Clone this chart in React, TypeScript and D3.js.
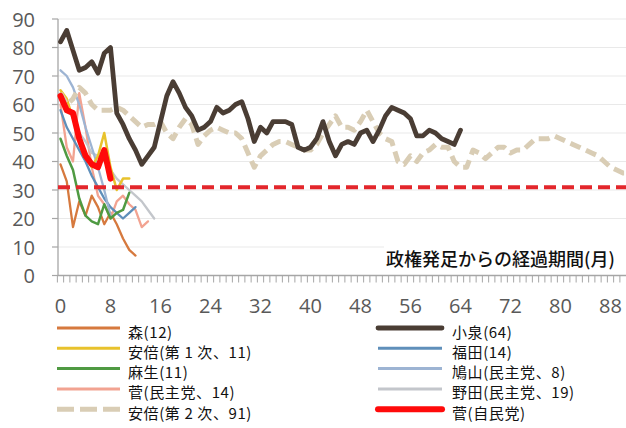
import React from 'react';
import * as d3 from 'd3';

// ---- data ----
const yTickValues = [0, 10, 20, 30, 40, 50, 60, 70, 80, 90];
const xTickLabels = [0, 8, 16, 24, 32, 40, 48, 56, 64, 72, 80, 88];
const threshold = 31;

const mori = [39, 33, 17, 26, 21, 28, 24, 18, 22, 18, 13, 9, 7];
const abe1 = [65, 62, 55, 48, 42, 38, 42, 50, 38, 30, 34, 34];
const aso = [48, 42, 37, 27, 21, 19, 18, 25, 20, 22, 23, 29];
const kanDPJ = [60, 45, 40, 64, 52, 38, 28, 25, 20, 26, 28, 25, 23, 17, 19];
const abe2 = [64, 60, 62, 66, 64, 60, 58, 58, 58, 59, 58, 56, 54, 52, 53, 53, 54, 50, 48, 52,
  55, 53, 46, 49, 51, 52, 51, 50, 50, 48, 43, 38, 42, 44, 46, 47, 47, 46, 45, 44,
  44, 46, 50, 53, 56, 52, 52, 51, 54, 58, 54, 50, 48, 47, 40, 39, 42, 40, 43, 44,
  46, 45, 45, 40, 38, 38, 44, 43, 41, 43, 45, 45, 43, 44, 44, 46, 48, 48, 48, 49,
  48, 47, 46, 45, 44, 43, 42, 40, 38, 37, 36, 36];
const koizumi = [82, 86, 79, 72, 73, 75, 71, 78, 80, 57, 53, 48, 44, 39, 42, 45, 54, 63, 68, 64,
  59, 56, 51, 52, 54, 59, 57, 58, 60, 61, 55, 47, 52, 50, 54, 54, 54, 53, 45, 44,
  45, 48, 54, 47, 42, 46, 47, 46, 50, 51, 47, 51, 56, 59, 58, 57, 55, 49, 49, 51,
  50, 48, 47, 46, 51];
const fukuda = [58, 52, 48, 44, 40, 35, 31, 27, 24, 22, 20, 22, 24];
const hatoyama = [72, 70, 66, 60, 52, 45, 38, 30, 21];
const noda = [64, 60, 55, 50, 47, 43, 42, 40, 37, 34, 32, 30, 28, 26, 23, 20];
const sugaLDP = [63, 58, 57, 48, 42, 39, 38, 44, 34];

const leftLegend = ['森(12)', '安倍(第 1 次、11)', '麻生(11)', '菅(民主党、14)', '安倍(第 2 次、91)'];
const rightLegend = ['小泉(64)', '福田(14)', '鳩山(民主党、8)', '野田(民主党、19)', '菅(自民党)'];
const axisTitle = '政権発足からの経過期間(月)';

type S = { name: string; data: number[]; color: string; width: number; dash?: string };

export default function App() {
  const W = 626, H = 428;
  const x = d3.scaleLinear().domain([0, 91]).range([60.5, 60.5 + 91 * 6.25]);
  const y = d3.scaleLinear().domain([0, 90]).range([275.5, 19]);
  const line = d3.line<number>().x((_, i) => x(i)).y(d => y(d)).curve(d3.curveLinear);
  const step = x(1) - x(0);
  const axisX = 58;
  const axisY = y(0);

  const thin: S[] = [
    { name: leftLegend[0], data: mori, color: '#d6793e', width: 2.3 },
    { name: leftLegend[3], data: kanDPJ, color: '#f2a391', width: 2.3 },
    { name: rightLegend[3], data: noda, color: '#c3c6cb', width: 2.3 },
    { name: rightLegend[1], data: fukuda, color: '#5f8fba', width: 2.3 },
    { name: rightLegend[2], data: hatoyama, color: '#9db4d3', width: 2.3 },
    { name: leftLegend[2], data: aso, color: '#4f9a42', width: 2.5 },
    { name: leftLegend[1], data: abe1, color: '#e8c22c', width: 2.5 },
  ];
  const abe2S: S = { name: leftLegend[4], data: abe2, color: '#d9cdb5', width: 5, dash: '11 6' };
  const koiS: S = { name: rightLegend[0], data: koizumi, color: '#4a3d34', width: 4.8 };
  const sugaS: S = { name: rightLegend[4], data: sugaLDP, color: '#ff0a0a', width: 6 };

  const leftStyles: S[] = [thin[0], thin[6], thin[5], thin[1], abe2S];
  const rightStyles: S[] = [koiS, thin[3], thin[4], thin[2], sugaS];

  const ticks = d3.range(0, 93).map(i => x(i) - step / 2).filter(v => v <= W);
  const legendRowY = (i: number) => 328 + i * 20.3;
  const numFont = "'Open Sans', 'Noto Sans', sans-serif";
  const cjkFont = "'Noto Sans CJK JP', 'Noto Sans', sans-serif";

  return (
    <svg width={W} height={H} style={{ position: 'absolute', left: 0, top: 0, display: 'block', background: '#fff' }}>
      <rect x={0} y={0} width={W} height={H} fill="#fff" />
      {/* gridlines */}
      {yTickValues.filter(v => v > 0).map(v => (
        <line key={v} x1={axisX} x2={W} y1={y(v)} y2={y(v)} stroke="#e9e9e9" strokeWidth={1} />
      ))}
      {/* axis title box */}
      <rect x={384} y={242} width={W - 384} height={31} fill="#fff" />
      <text x={386} y={258} fontFamily={cjkFont} fontSize={18} fontWeight={500} fill="#111" dominantBaseline="central">{axisTitle}</text>
      {/* y axis */}
      <line x1={axisX} x2={axisX} y1={y(90)} y2={axisY} stroke="#a6a6a6" strokeWidth={1.3} />
      {yTickValues.map(v => (
        <g key={v}>
          <line x1={axisX - 6} x2={axisX} y1={y(v)} y2={y(v)} stroke="#a6a6a6" strokeWidth={1.2} />
          <text x={35} y={y(v)} textAnchor="end" dominantBaseline="central" fontFamily={numFont} fontSize={20} fill="#595959">{v}</text>
        </g>
      ))}
      {/* x axis */}
      <line x1={axisX} x2={W} y1={axisY} y2={axisY} stroke="#a6a6a6" strokeWidth={1.3} />
      {ticks.map((t, i) => (
        <line key={i} x1={t} x2={t} y1={axisY} y2={axisY + 7} stroke="#a6a6a6" strokeWidth={1} />
      ))}
      {xTickLabels.map(v => (
        <text key={v} x={x(v)} y={305} textAnchor="middle" dominantBaseline="central" fontFamily={numFont} fontSize={20} fill="#595959">{v}</text>
      ))}
      {/* series */}
      {thin.map(s => (
        <path key={s.name} d={line(s.data) || ''} fill="none" stroke={s.color} strokeWidth={s.width} strokeLinejoin="round" strokeLinecap="round" />
      ))}
      <path d={line(abe2S.data) || ''} fill="none" stroke={abe2S.color} strokeWidth={abe2S.width} strokeDasharray={abe2S.dash} strokeLinejoin="round" />
      <path d={line(koiS.data) || ''} fill="none" stroke={koiS.color} strokeWidth={koiS.width} strokeLinejoin="round" strokeLinecap="round" />
      <line x1={axisX} x2={W} y1={y(threshold)} y2={y(threshold)} stroke="#e3262b" strokeWidth={4} strokeDasharray="12 6" />
      <path d={line(sugaS.data) || ''} fill="none" stroke={sugaS.color} strokeWidth={sugaS.width} strokeLinejoin="round" strokeLinecap="round" />
      {/* legend */}
      {leftStyles.map((s, i) => (
        <g key={'l' + i}>
          <line x1={57} x2={120} y1={legendRowY(i)} y2={legendRowY(i)} stroke={s.color} strokeWidth={Math.max(s.width, 3)} strokeDasharray={s.dash ? '17 6' : undefined} />
          <text x={128} y={legendRowY(i) + 3} dominantBaseline="central" fontFamily={cjkFont} fontSize={15} letterSpacing={0.6} fill="#111">{leftLegend[i]}</text>
        </g>
      ))}
      {rightStyles.map((s, i) => (
        <g key={'r' + i}>
          <line x1={378} x2={442} y1={legendRowY(i)} y2={legendRowY(i)} stroke={s.color} strokeWidth={Math.max(s.width, 3)} strokeLinecap={s.width > 4 ? 'round' : 'butt'} />
          <text x={452} y={legendRowY(i) + 3} dominantBaseline="central" fontFamily={cjkFont} fontSize={15} letterSpacing={0.6} fill="#111">{rightLegend[i]}</text>
        </g>
      ))}
    </svg>
  );
}
